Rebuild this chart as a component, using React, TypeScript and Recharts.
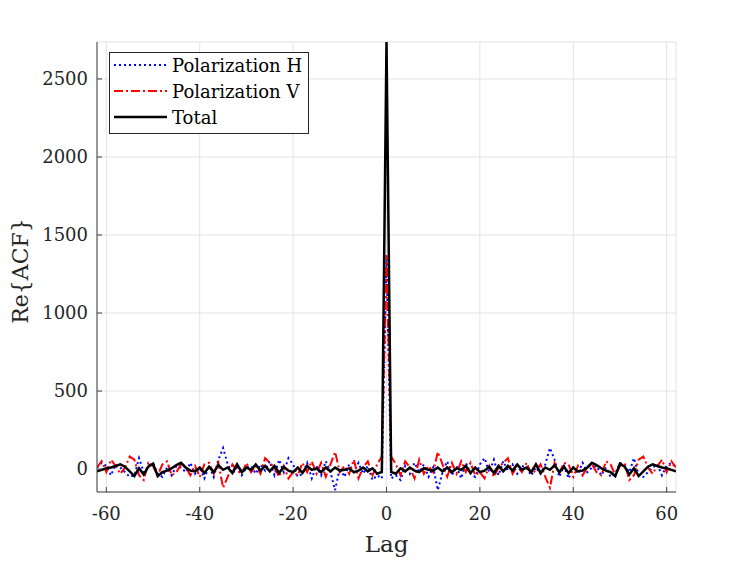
import React from 'react';
import { LineChart, Line, XAxis, YAxis, CartesianGrid, Legend, Label } from 'recharts';

// Re{ACF} values for lags 0..62 (the ACF real part is symmetric in lag)
const hPos = [1365,
  -60, -40, -70, 20, -30, 40, -20, 30, -50, 10,
  -135, -20, 50, -40, 20, -60, 40, -30, -50, 30,
  70, -20, 60, -40, 50, -10, 30, -30, 20, 10,
  -40, 10, -30, 30, 135, 60, -50, 20, -60, 10,
  -30, 40, -20, 10, 20, -40, 10, -50, -30, 40,
  20, -20, 70, -40, -50, -20, 10, 30, -40, 20,
  40, 10];
const vPos = [1372,
  80, 30, -40, 50, 10, -60, 60, -30, 20, -20,
  110, 30, -50, 40, -30, 50, -20, 40, -40, -20,
  -60, 20, -50, 10, 40, 70, -30, 20, -20, 40,
  -30, -10, 30, -50, -120, 40, -30, 40, 30, -50,
  20, -40, 10, 30, -20, -40, 50, 30, -40, 20,
  40, -70, -40, 60, 80, 10, -30, 20, 60, -20,
  50, 10];
const totPos = [2737,
  -18, -30, 5, -15, 10, -10, -20, 5, -5, -10,
  10, -15, 10, -20, 5, -5, 20, -25, 10, -20,
  -10, 15, -25, 20, -15, 20, -10, 30, -5, 10,
  -20, 30, -25, 10, -5, 25, -20, 15, -25, 10,
  -15, -10, 10, 40, 25, 5, -10, -20, -45, 35,
  15, -35, 5, -45, -15, 15, 30, 20, 10, 5,
  -5, -15];

const xTicks = [-60, -40, -20, 0, 20, 40, 60];
const yTicks = [0, 500, 1000, 1500, 2000, 2500];
const xDomain = [-62, 62];
const yDomain = [-147, 2737];

const legendItems = [
  { name: 'Polarization H', color: '#0000ff', dash: '2 3', width: 2 },
  { name: 'Polarization V', color: '#ff0000', dash: '9 3 2 3', width: 2 },
  { name: 'Total', color: '#000000', dash: undefined, width: 2.5 },
];

const data: { lag: number; h: number; v: number; total: number }[] = [];
for (let lag = -62; lag <= 62; lag++) {
  const i = Math.abs(lag);
  data.push({ lag, h: hPos[i], v: vPos[i], total: totPos[i] });
}

const FONT = "'DejaVu Serif', serif";
const AXIS = '#404040';

const LegendBox = () => (
  <svg width={200} height={82} style={{ display: 'block' }}>
    <rect x={0.5} y={0.5} width={199} height={81} fill="#ffffff" stroke="#262626" strokeWidth={1} />
    {legendItems.map((it, i) => (
      <g key={it.name}>
        <line x1={5} x2={58} y1={13 + 26 * i} y2={13 + 26 * i} stroke={it.color}
          strokeWidth={it.width} strokeDasharray={it.dash} />
        <text x={63} y={13 + 26 * i} dominantBaseline="central" fontFamily={FONT}
          fontSize={18} fill="#000">{it.name}</text>
      </g>
    ))}
  </svg>
);

const YLab = (props: any) => {
  const vb = props.viewBox || { x: 0, y: 34, width: 89, height: 450 };
  const cy = vb.y + vb.height / 2 + 4;
  const cx = 20;
  return (
    <text x={cx} y={cy} transform={`rotate(-90, ${cx}, ${cy})`} textAnchor="middle"
      fontFamily={FONT} fontSize={22} fill="#262626">Re{'{'}ACF{'}'}</text>
  );
};

export default function App() {
  return (
    <LineChart width={700} height={550} data={data}
      margin={{ top: 34, right: 32, bottom: 0, left: 0 }}>
      <CartesianGrid stroke="#e3e3e3" strokeWidth={1} />
      <XAxis dataKey="lag" type="number" domain={xDomain} ticks={xTicks} allowDataOverflow
        height={66} tickSize={-5} tickMargin={20} stroke={AXIS}
        tick={{ fontFamily: FONT, fontSize: 18, fill: '#262626' }}>
        <Label value="Lag" position="insideBottom" offset={6} fontFamily={FONT} fontSize={23} fill="#262626" />
      </XAxis>
      <XAxis xAxisId="top" orientation="top" type="number" domain={xDomain} ticks={xTicks}
        allowDataOverflow height={0} tickSize={-5} tick={false} stroke={AXIS} />
      <YAxis type="number" domain={yDomain} ticks={yTicks} allowDataOverflow width={89}
        tickSize={-5} tickMargin={14} stroke={AXIS}
        tick={{ fontFamily: FONT, fontSize: 18, fill: '#262626' }}>
        <Label content={<YLab />} />
      </YAxis>
      <YAxis yAxisId="right" orientation="right" type="number" domain={yDomain} ticks={yTicks}
        allowDataOverflow width={0} tickSize={-5} tick={false} stroke={AXIS} />
      <Line type="linear" dataKey="h" stroke="#0000ff" strokeWidth={2} strokeDasharray="2 3"
        dot={false} isAnimationActive={false} />
      <Line type="linear" dataKey="v" stroke="#ff0000" strokeWidth={2} strokeDasharray="9 3 2 3"
        dot={false} isAnimationActive={false} />
      <Line type="linear" dataKey="total" stroke="#000000" strokeWidth={2.5}
        dot={false} isAnimationActive={false} />
      <Legend content={<LegendBox />} layout="horizontal" verticalAlign="middle" align="center"
        wrapperStyle={{ left: 101, top: 44, width: 200 }} />
    </LineChart>
  );
}
